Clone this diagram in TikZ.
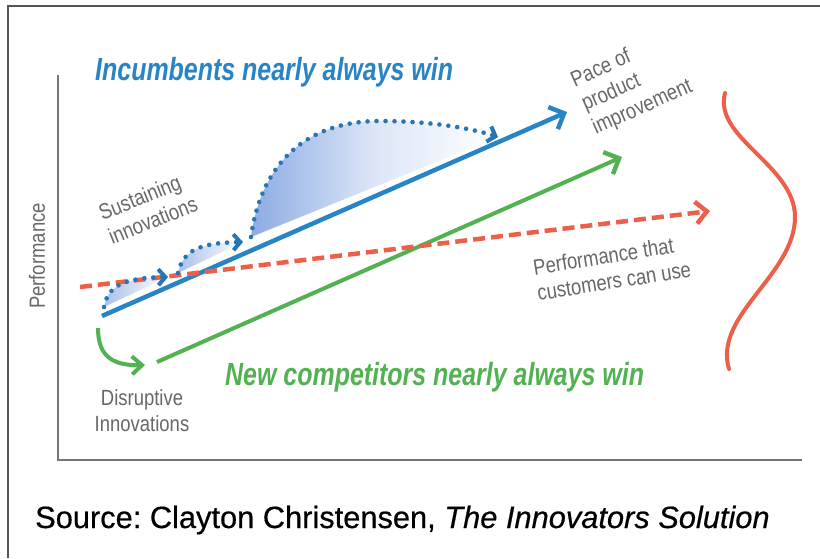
\documentclass[tikz,border=0pt]{standalone}
\usepackage{fontspec}
\setmainfont{Liberation Sans}
\newfontfamily\titlefont[FakeStretch=0.78]{Liberation Sans}
\newfontfamily\labfont[FakeStretch=0.84]{Liberation Sans}
\newfontfamily\srcfont[FakeBold=0.5]{Liberation Sans}
\usetikzlibrary{arrows.meta}
\definecolor{cblue}{RGB}{41,132,198}
\definecolor{cdot}{RGB}{38,118,182}
\definecolor{cgreen}{RGB}{82,178,82}
\definecolor{cred}{RGB}{236,96,74}
\definecolor{cgray}{RGB}{104,104,104}
\definecolor{caxis}{RGB}{118,118,118}
\definecolor{cframe}{RGB}{85,85,85}
\definecolor{cshade}{RGB}{140,172,228}
\tikzset{
  mainline/.style={line width=4.5pt, -{Straight Barb[length=12pt,width=24pt,line width=4.5pt]}},
  dotline/.style={cdot, line width=4.6pt, line cap=round, dash pattern=on 0pt off 9pt,
     -{Straight Barb[length=7pt,width=16pt,line width=4pt]}},
  graylab/.style={text=cgray, font=\labfont\fontsize{22}{26}\selectfont, inner sep=0pt},
  titlelab/.style={font=\titlefont\bfseries\itshape\fontsize{32}{36}\selectfont, inner sep=0pt},
}
\begin{document}
\begin{tikzpicture}[x=1pt,y=-1pt]
\useasboundingbox (0,0) rectangle (820,558);
\fill[white] (0,0) rectangle (820,558);
% outer frame
\draw[cframe, line width=2pt] (8,558) -- (8,6) -- (820,6);
% axes
\coordinate (ytop) at (58,75);
\coordinate (orig) at (58,460);
\coordinate (xend) at (802,460);
\draw[caxis, line width=2.5pt] (ytop) -- (orig) -- (xend);
% endpoints
\coordinate (bS) at (102,316);
\coordinate (bE) at (567,112);
\coordinate (gS) at (157,362);
\coordinate (gE) at (622,157);
\coordinate (rS) at (80,287);
\coordinate (rE) at (710,211);
% shadings
\shade[left color=cshade, right color=white, middle color=cshade!30!white]
  (251,237) .. controls (260,170) and (300,121) .. (380,121) .. controls (430,121) and (470,128) .. (498,137) -- cycle;
\shade[left color=cshade!75!white, right color=white]
  (104,307) .. controls (108,285) and (125,278) .. (168,277) -- cycle;
\shade[left color=cshade!75!white, right color=white]
  (178,273) .. controls (183,250) and (200,243) .. (243,242) -- cycle;
% main lines
\draw[mainline, cblue] (bS) -- (bE);
\draw[mainline, cgreen, line width=4pt] (gS) -- (gE);
\draw[cred, line width=4.5pt, dash pattern=on 12pt off 6pt,
  -{Straight Barb[length=11pt,width=22pt,line width=4.5pt]}] (rS) -- (rE);
% green disruptive arrow
\coordinate (dS) at (98,328);
\coordinate (dE) at (145,365);
\draw[cgreen, line width=4pt, -{Straight Barb[length=10pt,width=18pt,line width=4pt]}]
  (dS) .. controls (98,352) and (108,366) .. (dE);
% dotted sustaining curves
\draw[dotline] (104,307) .. controls (108,285) and (125,278) .. (168,277);
\draw[dotline] (178,273) .. controls (183,250) and (200,243) .. (243,242);
\draw[dotline] (251,237) .. controls (260,170) and (300,121) .. (380,121) .. controls (430,121) and (470,128) .. (498,137);
% red wavy curve
\draw[cred, line width=4pt, line cap=round] (725,93) .. controls (713,138) and (795,165) .. (795,217)
  .. controls (795,275) and (713,315) .. (729,369);
% labels
\node[titlelab, text=cblue, anchor=base west] (inc) at (95,80) {Incumbents nearly always win};
\node[titlelab, text=cgreen, anchor=base west] (newc) at (225,385) {New competitors nearly always win};
\node[graylab, rotate=90] (perf) at (37,256) {Performance};
\node[graylab, align=center] (disr) at (142,411) {Disruptive\\Innovations};
\node[graylab, align=left, rotate=22] (sust) at (148,208) {Sustaining\\innovations};
\node[graylab, align=left, rotate=24] (pace) at (632,84) {Pace of\\product\\improvement};
\node[graylab, align=left, rotate=9] (cust) at (612,268) {Performance that\\customers can use};
\node[anchor=base west, inner sep=0pt, font=\srcfont\fontsize{30.8}{34}\selectfont] (src) at (35,528)
  {\frenchspacing Source: Clayton Christensen, \textit{The Innovators Solution}};
\end{tikzpicture}
\end{document}
